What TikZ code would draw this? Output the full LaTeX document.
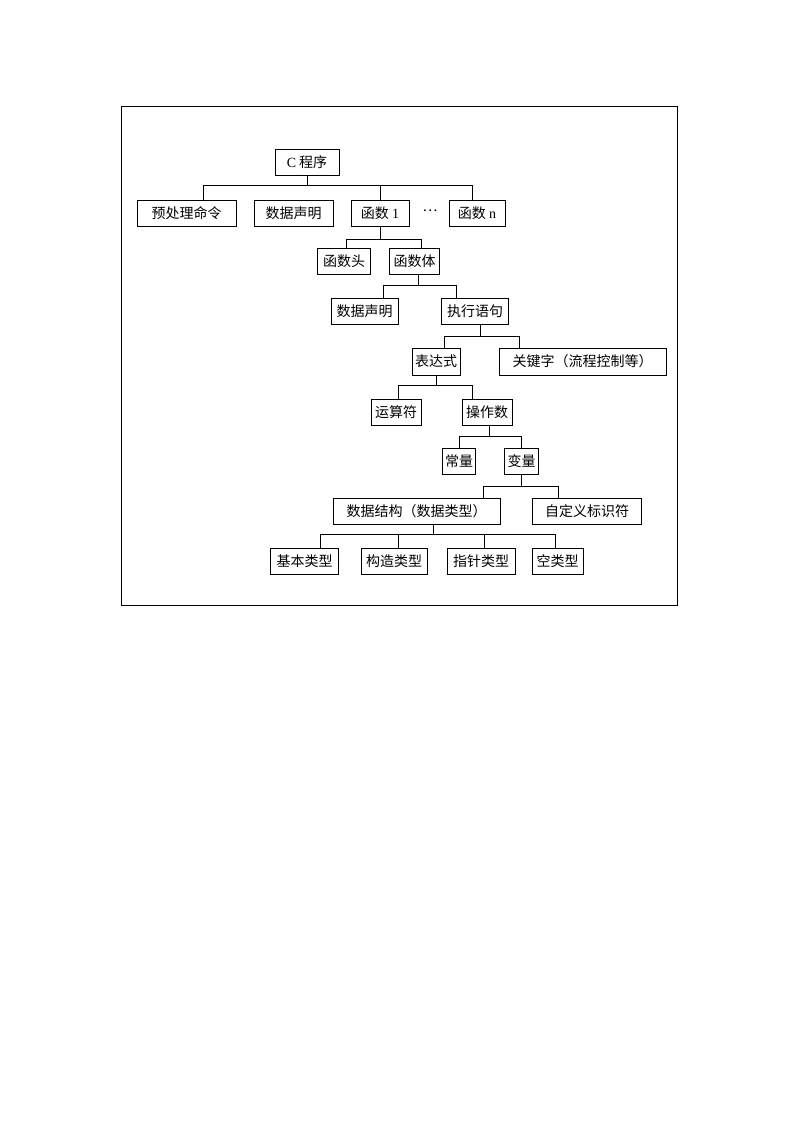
\documentclass[tikz,border=0pt]{standalone}
\usepackage{fontspec}
\setmainfont{Liberation Serif}
\newfontfamily\cjk{Noto Sans CJK SC}
\newcommand\lat[1]{{\rmfamily #1}}
\tikzset{
  box/.style={draw, line width=.7pt, inner sep=0pt, minimum height=19.5pt,
    font=\cjk\fontsize{10.5}{12}\selectfont},
  link/.style={line width=.7pt}
}
\begin{document}
\begin{tikzpicture}[x=.75pt, y=-.75pt]
  \useasboundingbox (0,0) rectangle (793,1122);
  \draw[line width=.7pt] (121,106) rectangle (677,605);
  % top level
  \node[box, minimum width=48pt] (prog) at (307,162) {\lat{C} 程序};
  \node[box, minimum width=74.25pt] (pre) at (186.5,213.5) {预处理命令};
  \node[box, minimum width=59.25pt] (decl) at (293.5,213.5) {数据声明};
  \node[box, minimum width=43.5pt] (fun1) at (380,213.5) {函数 \lat{1}};
  \node[font=\cjk\fontsize{10.5}{12}\selectfont] (dots) at (430,211) {…};
  \node[box, minimum width=42pt] (funn) at (477,213.5) {函数 \lat{n}};
  \draw[link] (prog.south) -- ++(0,10) coordinate (j1);
  \draw[link] ([xshift=12.4pt]pre.north) |- (j1) -| ([xshift=-3.75pt]funn.north);
  \draw[link] (fun1.north) -- (fun1.north |- j1);
  % function
  \node[box, minimum width=40pt] (head) at (344,261.5) {函数头};
  \node[box, minimum width=37pt] (body) at (414.5,261.5) {函数体};
  \draw[link] (fun1.south) -- ++(0,12) coordinate (j2);
  \draw[link] ([xshift=1.5pt]head.north) |- (j2) -| ([xshift=4.9pt]body.north);
  % body
  \node[box, minimum width=50.25pt] (decl2) at (364.5,311) {数据声明};
  \node[box, minimum width=50.25pt] (stmt) at (475,311) {执行语句};
  \draw[link] ([xshift=2.6pt]body.south) -- ++(0,10) coordinate (j3);
  \draw[link] ([xshift=13.9pt]decl2.north) |- (j3) -| ([xshift=-14.25pt]stmt.north);
  % statements
  \node[box, minimum width=36pt, minimum height=20.25pt] (expr) at (436,361.5) {表达式};
  \node[box, minimum width=125.25pt, minimum height=20.25pt] (keyw) at (582.5,361.5) {关键字（流程控制等）};
  \draw[link] ([xshift=3.75pt]stmt.south) -- ++(0,12) coordinate (j4);
  \draw[link] ([xshift=6pt]expr.north) |- (j4) -| ([xshift=-47.25pt]keyw.north);
  % expression
  \node[box, minimum width=37.5pt] (oper) at (396,412) {运算符};
  \node[box, minimum width=37.5pt] (opnd) at (487,412) {操作数};
  \draw[link] (expr.south) -- ++(0,10) coordinate (j5);
  \draw[link] ([xshift=1.5pt]oper.north) |- (j5) -| ([xshift=-11.25pt]opnd.north);
  % operand
  \node[box, minimum width=24.75pt] (const) at (459,461) {常量};
  \node[box, minimum width=25.5pt] (var) at (521.5,461) {变量};
  \draw[link] ([xshift=1.5pt]opnd.south) -- ++(0,11) coordinate (j6);
  \draw[link] (const.north) |- (j6) -| (var.north);
  % variable
  \node[box, minimum width=125.25pt] (dstruct) at (416.5,511) {数据结构（数据类型）};
  \node[box, minimum width=81.75pt] (ident) at (587,511) {自定义标识符};
  \draw[link] (var.south) -- ++(0,12) coordinate (j7);
  \draw[link] ([xshift=49.9pt]dstruct.north) |- (j7) -| ([xshift=-21.75pt]ident.north);
  % data types
  \node[box, minimum width=51pt] (basic) at (304.5,561) {基本类型};
  \node[box, minimum width=49.5pt] (constr) at (394,561) {构造类型};
  \node[box, minimum width=51pt] (ptr) at (481,561) {指针类型};
  \node[box, minimum width=38.25pt] (void) at (557.5,561) {空类型};
  \draw[link] ([xshift=13pt]dstruct.south) -- ++(0,10) coordinate (j8);
  \draw[link] ([xshift=11.6pt]basic.north) |- (j8) -| ([xshift=-1.9pt]void.north);
  \draw[link] ([xshift=3pt]constr.north) -- ([xshift=3pt]constr.north |- j8);
  \draw[link] ([xshift=2.25pt]ptr.north) -- ([xshift=2.25pt]ptr.north |- j8);
\end{tikzpicture}
\end{document}
